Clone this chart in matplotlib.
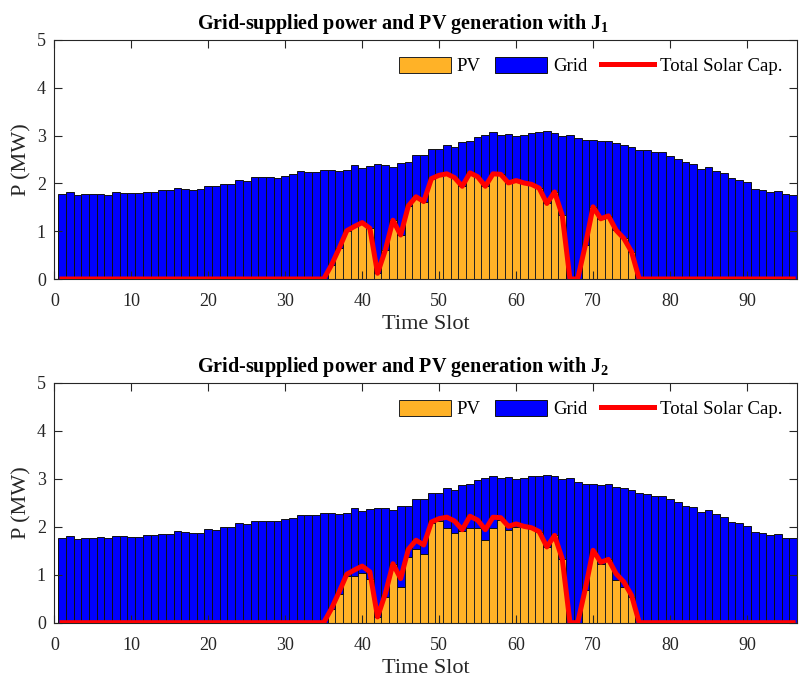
import numpy as np
import matplotlib
matplotlib.use('Agg')
import matplotlib.pyplot as plt

plt.rcParams['font.family'] = ['Liberation Serif', 'DejaVu Serif']
plt.rcParams['mathtext.fontset'] = 'custom'
plt.rcParams['mathtext.rm'] = 'Liberation Serif'
plt.rcParams['mathtext.bf'] = 'Liberation Serif:bold'

# time slots 1..96
slots = list(range(1, 97))

# total demand (PV + Grid), MW -- same in both panels
load = [1.77, 1.81, 1.75, 1.77, 1.77, 1.78, 1.76, 1.81, 1.80, 1.79,
        1.79, 1.83, 1.83, 1.86, 1.86, 1.91, 1.89, 1.87, 1.88, 1.95,
        1.94, 1.99, 1.99, 2.08, 2.06, 2.13, 2.13, 2.13, 2.12, 2.16,
        2.19, 2.25, 2.24, 2.24, 2.29, 2.29, 2.26, 2.28, 2.39, 2.33,
        2.37, 2.40, 2.39, 2.35, 2.43, 2.44, 2.59, 2.59, 2.71, 2.71,
        2.80, 2.76, 2.87, 2.89, 2.97, 3.01, 3.07, 3.01, 3.03, 2.99,
        3.01, 3.06, 3.07, 3.09, 3.06, 3.00, 3.01, 2.94, 2.90, 2.90,
        2.88, 2.89, 2.84, 2.80, 2.77, 2.70, 2.69, 2.65, 2.65, 2.57,
        2.51, 2.44, 2.41, 2.31, 2.34, 2.26, 2.21, 2.11, 2.07, 2.02,
        1.89, 1.87, 1.83, 1.84, 1.77, 1.76]

# total solar capacity (red line); PV with J1 equals it
solar_cap = [0, 0, 0, 0, 0, 0, 0, 0, 0, 0,
             0, 0, 0, 0, 0, 0, 0, 0, 0, 0,
             0, 0, 0, 0, 0, 0, 0, 0, 0, 0,
             0, 0, 0, 0, 0, 0.29, 0.64, 1.01, 1.10, 1.18,
             1.06, 0.12, 0.60, 1.23, 0.92, 1.53, 1.72, 1.62, 2.10, 2.17,
             2.20, 2.12, 1.94, 2.22, 2.14, 1.94, 2.20, 2.19, 2.01, 2.06,
             2.01, 1.98, 1.90, 1.58, 1.82, 1.33, 0, 0, 0.71, 1.51,
             1.26, 1.32, 1.02, 0.85, 0.57, 0, 0, 0, 0, 0,
             0, 0, 0, 0, 0, 0, 0, 0, 0, 0,
             0, 0, 0, 0, 0, 0]

pv_j1 = list(solar_cap)

pv_j2 = [0, 0, 0, 0, 0, 0, 0, 0, 0, 0,
         0, 0, 0, 0, 0, 0, 0, 0, 0, 0,
         0, 0, 0, 0, 0, 0, 0, 0, 0, 0,
         0, 0, 0, 0, 0, 0.29, 0.60, 0.97, 0.97, 1.04,
         0.91, 0.12, 0.54, 1.23, 0.75, 1.37, 1.53, 1.43, 2.08, 2.12,
         1.97, 1.88, 1.91, 1.97, 1.97, 1.72, 1.97, 2.14, 1.94, 2.00,
         2.01, 1.98, 1.90, 1.58, 1.82, 1.33, 0, 0, 0.68, 1.45,
         1.22, 1.32, 0.89, 0.74, 0.54, 0, 0, 0, 0, 0,
         0, 0, 0, 0, 0, 0, 0, 0, 0, 0,
         0, 0, 0, 0, 0, 0]

titles = [r'Grid-supplied power and PV generation with J$_{\mathbf{1}}$',
          r'Grid-supplied power and PV generation with J$_{\mathbf{2}}$']

pv_color = '#FFB227'
grid_color = '#0000FF'
line_color = '#FF0000'

fig = plt.figure(figsize=(7.99, 6.80), dpi=100)
left, width = 0.068, 0.9295
ax_top = fig.add_axes([left, 0.5897, width, 0.3515])
ax_bot = fig.add_axes([left, 0.0843, width, 0.3525])

for ax, pv, title in zip([ax_top, ax_bot], [pv_j1, pv_j2], titles):
    x = np.array(slots)
    pv = np.array(pv)
    grid = np.array(load) - pv
    b1 = ax.bar(x, pv, width=1.0, color=pv_color, edgecolor='#222222', linewidth=0.7, label='PV')
    b2 = ax.bar(x, grid, bottom=pv, width=1.0, color=grid_color, edgecolor='#111111',
                linewidth=0.7, label='Grid')
    ln, = ax.plot(x, solar_cap, color=line_color, linewidth=3.6, label='Total Solar Cap.', zorder=5)
    ax.set_xlim(0, 96.5)
    ax.set_ylim(0, 5)
    ax.set_xticks(range(0, 100, 10))
    ax.set_yticks(range(0, 6))
    ax.tick_params(direction='in', top=True, right=True, length=5.5, width=0.8,
                   labelsize=13, colors='#262626')
    ax.tick_params(axis='x', pad=10)
    ax.tick_params(axis='y', pad=6)
    for s in ax.spines.values():
        s.set_color('#262626')
        s.set_linewidth(0.8)
    ax.set_xlabel('Time Slot', fontsize=16, color='#262626', labelpad=4)
    ax.set_ylabel('P (MW)', fontsize=16, color='#262626', labelpad=4)
    ax.set_title(title, fontsize=14.5, fontweight='bold', x=0.47, pad=8)
    ax.legend(handles=[b1, b2, ln], loc='upper right', ncol=3, frameon=False,
              fontsize=13.5, handlelength=2.8, handleheight=0.9, handletextpad=0.3,
              columnspacing=0.75, bbox_to_anchor=(0.995, 0.975), borderaxespad=0.2)

fig.savefig('out.png', dpi=100)
